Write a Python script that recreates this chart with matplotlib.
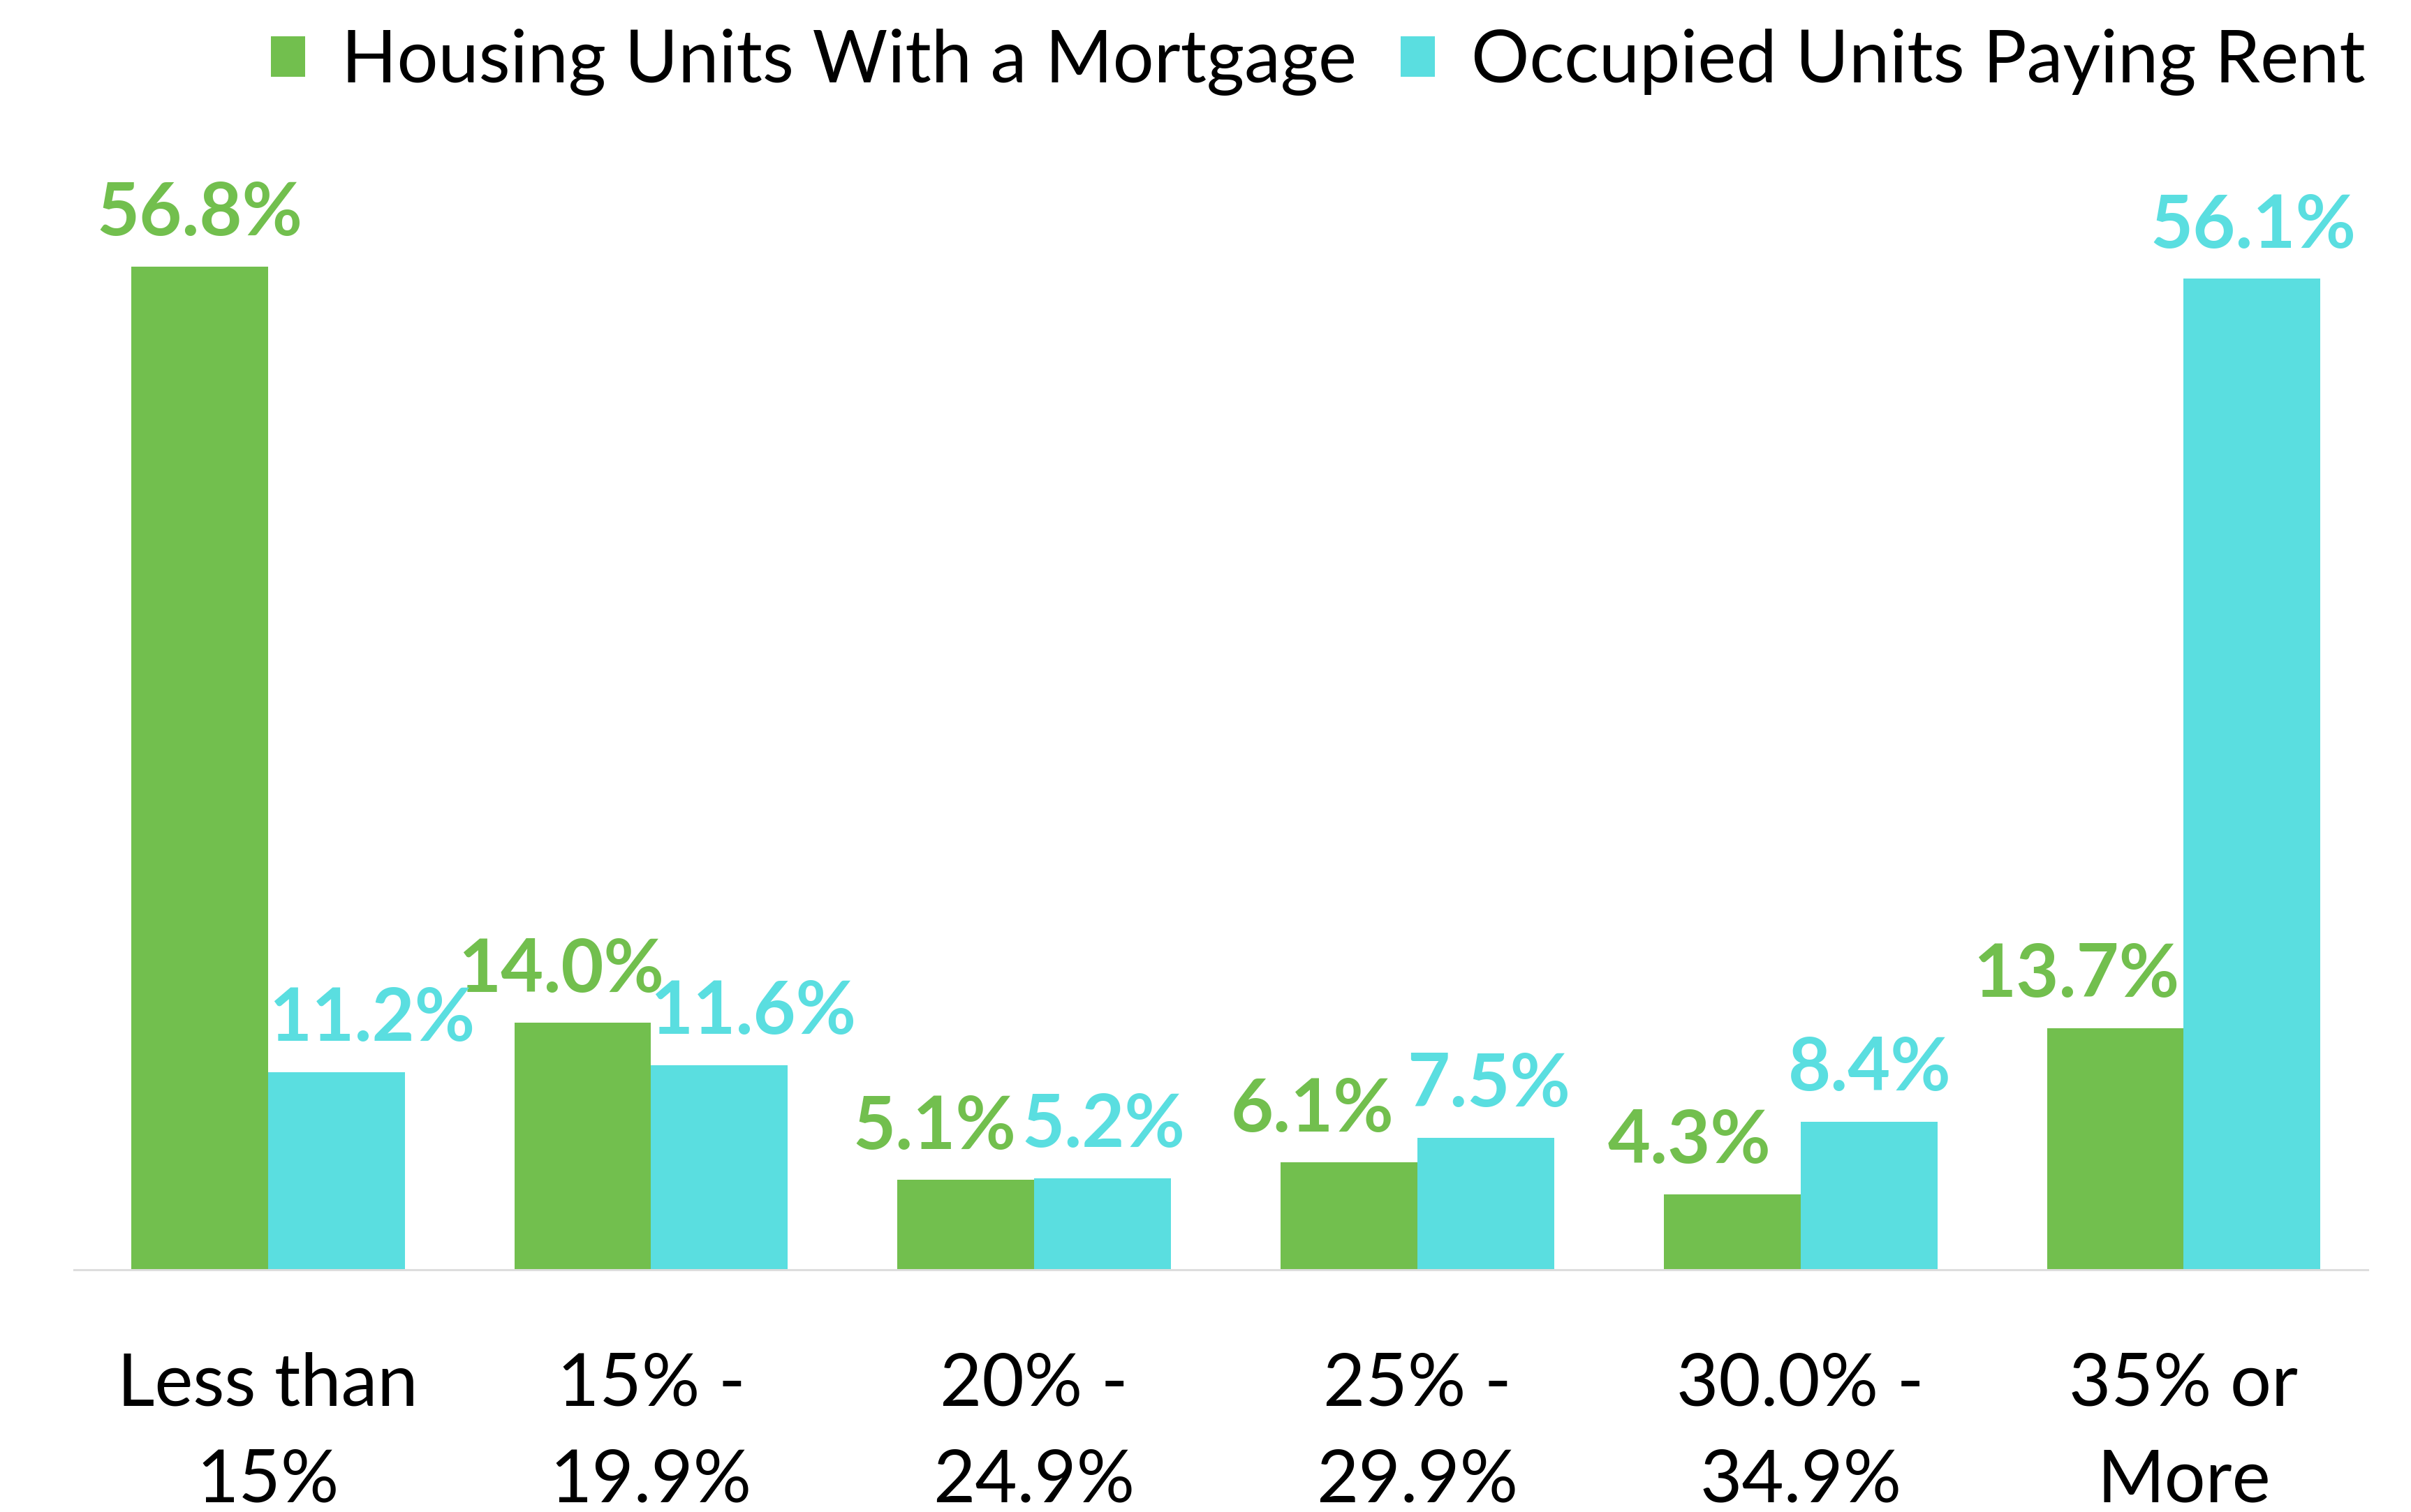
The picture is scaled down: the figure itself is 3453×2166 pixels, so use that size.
import matplotlib
matplotlib.use('Agg')
import matplotlib.pyplot as plt
import numpy as np

plt.rcParams['font.family'] = ['Lato', 'DejaVu Sans']

# Datos
categorias = ['Less than\n15%', '15% -\n19.9%', '20% -\n24.9%', '25% -\n29.9%', '30.0% -\n34.9%', '35% or\nMore']
hipoteca = [56.8, 14.0, 5.1, 6.1, 4.3, 13.7]
alquiler = [11.2, 11.6, 5.2, 7.5, 8.4, 56.1]
series = ['Housing Units With a Mortgage', 'Occupied Units Paying Rent']

VERDE = '#72BF4E'
CIAN = '#5ADEE0'

# desplazamiento horizontal de las etiquetas (puntos) para que no se pisen
dx_verde = [0, -22, -32, -38, -44, -40]
dx_cian = [37, 35, 1, 3, 1, 1]

fig = plt.figure(figsize=(34.53, 21.66), dpi=100)
ax = fig.add_axes([0.0307, 0.160, 0.9513, 0.738])

x = np.arange(len(categorias))
w = 0.357

b1 = ax.bar(x - w / 2, hipoteca, w, color=VERDE, label=series[0])
b2 = ax.bar(x + w / 2, alquiler, w, color=CIAN, label=series[1])

for barras, vals, col, dxs in [(b1, hipoteca, VERDE, dx_verde), (b2, alquiler, CIAN, dx_cian)]:
    for rect, v, dx in zip(barras, vals, dxs):
        ax.annotate(f'{v:.1f}%', (rect.get_x() + rect.get_width() / 2, v),
                    xytext=(dx, 32), textcoords='offset points',
                    ha='center', va='baseline', fontsize=76, fontweight='bold', color=col)

ax.set_xlim(-0.506, 5.48)
ax.set_ylim(0, 63.15)
ax.set_xticks(x)
ax.set_xticklabels(categorias, fontsize=75, linespacing=1.57)
ax.tick_params(axis='x', length=0, pad=84)
ax.set_yticks([])
for s in ['top', 'right', 'left']:
    ax.spines[s].set_visible(False)
ax.spines['bottom'].set_color('#DDDDDD')
ax.spines['bottom'].set_linewidth(2.2)

fig.legend(handles=[b1, b2], loc='upper right', bbox_to_anchor=(0.981, 0.981),
           ncol=2, frameon=False, fontsize=75, handlelength=0.47, handleheight=0.47,
           handletextpad=0.5, columnspacing=0.6, borderpad=0, borderaxespad=0)

fig.savefig('out.png', dpi=100, facecolor='white')
